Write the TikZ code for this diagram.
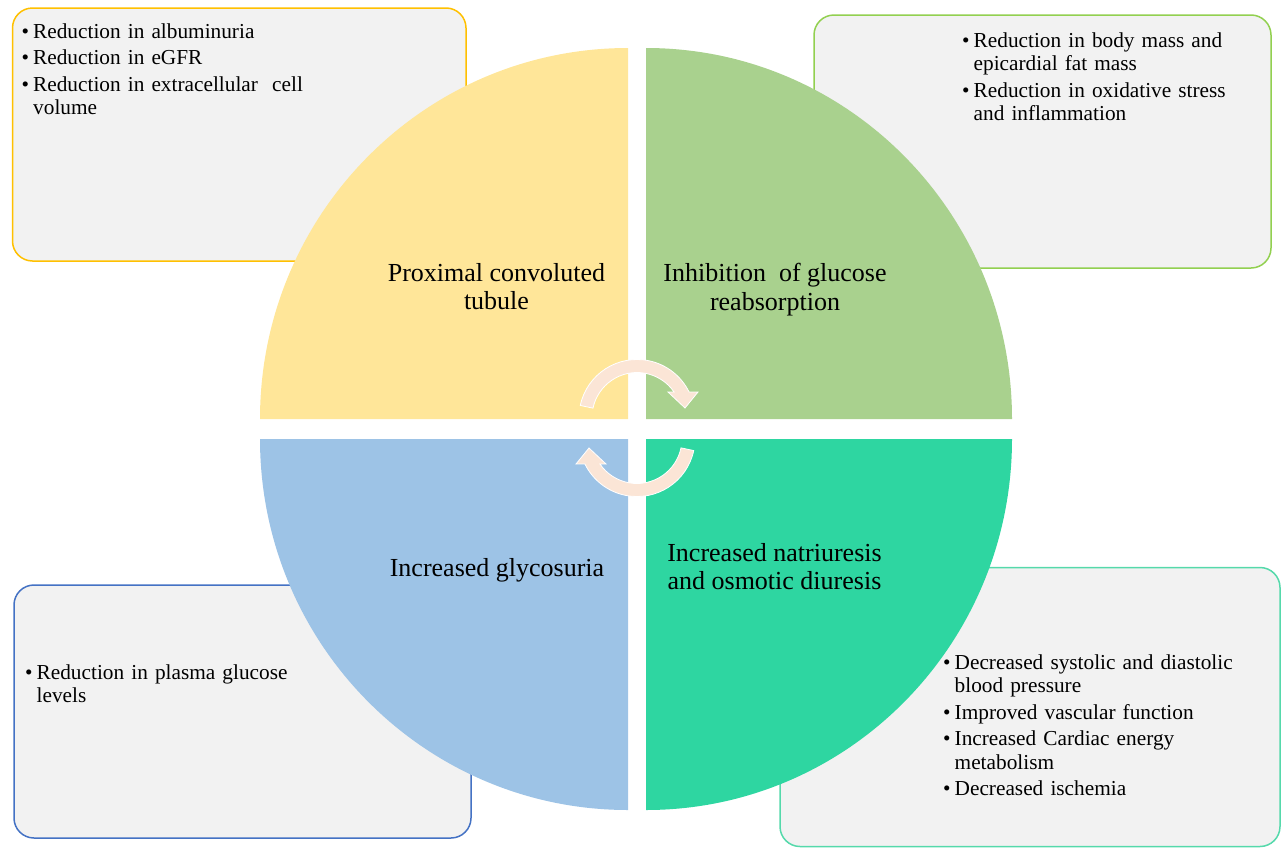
\documentclass[tikz,border=0pt]{standalone}
\usepackage{fontspec}
\setmainfont{Liberation Serif}
\definecolor{qyellow}{HTML}{FFE699}
\definecolor{qgreen}{HTML}{A9D18E}
\definecolor{qblue}{HTML}{9DC3E6}
\definecolor{qteal}{HTML}{2ED6A1}
\definecolor{byellow}{HTML}{FFC000}
\definecolor{bgreen}{HTML}{92D050}
\definecolor{bblue}{HTML}{4472C4}
\definecolor{bteal}{HTML}{55D9AB}
\definecolor{boxfill}{HTML}{F2F2F2}
\definecolor{arrowc}{HTML}{FBE5D6}
\newcommand{\bitem}[1]{\noindent\makebox[11.5pt][l]{\textbullet}#1\par}
\newcommand{\bcont}[1]{\vspace{-3pt}\noindent\hspace*{11.5pt}#1\par}
\tikzset{
  infobox/.style={draw, fill=boxfill, line width=1.5pt, rounded corners=20pt, inner sep=0pt},
  boxtext/.style={anchor=north west, inner sep=0pt, text width=440pt, align=left,
    font=\fontsize{21.3}{23.5}\selectfont, execute at begin node={\setlength{\parskip}{3pt}}},
  qlabel/.style={anchor=north, inner sep=0pt, align=center, font=\fontsize{26}{28.5}\selectfont},
  cyclearrow/.style={fill=arrowc, draw=white, line width=0.8pt}
}
\begin{document}
\begin{tikzpicture}[x=1pt,y=1pt]
\useasboundingbox (0,0) rectangle (1282,-849);
% boxes
\node[infobox, draw=byellow, minimum width=453.5pt, minimum height=253pt] (boxTL) at (239.25,-134.5) {};
\node[infobox, draw=bgreen, minimum width=457pt, minimum height=253pt] (boxTR) at (1042.5,-141.5) {};
\node[infobox, draw=bblue, minimum width=457pt, minimum height=253pt] (boxBL) at (242.5,-711.5) {};
\node[infobox, draw=bteal, minimum width=500pt, minimum height=279pt] (boxBR) at (1030,-707) {};
% box texts
\node[boxtext] (txtTL) at (21.5,-23.5) {\bitem{Reduction in albuminuria}\bitem{Reduction in eGFR}\bitem{Reduction in extracellular\ \ cell}\bcont{volume}};
\node[boxtext] (txtTR) at (962,-32.5) {\bitem{Reduction in body mass and}\bcont{epicardial fat mass}\bitem{Reduction in oxidative stress}\bcont{and inflammation}};
\node[boxtext] (txtBL) at (25,-664.5) {\bitem{Reduction in plasma glucose}\bcont{levels}};
\node[boxtext] (txtBR) at (943,-654.5) {\bitem{Decreased systolic and diastolic}\bcont{blood pressure}\bitem{Improved vascular function}\bitem{Increased Cardiac energy}\bcont{metabolism}\bitem{Decreased ischemia}};
% quadrants
\fill[qyellow] (628,-419) -- (260,-419) arc[start angle=180,end angle=90,x radius=368pt,y radius=371pt] -- cycle;
\fill[qgreen] (646,-419) -- (646,-48) arc[start angle=90,end angle=0,x radius=366pt,y radius=371pt] -- cycle;
\fill[qblue] (628,-439) -- (260,-439) arc[start angle=180,end angle=270,x radius=368pt,y radius=371pt] -- cycle;
\fill[qteal] (646,-439) -- (1012,-439) arc[start angle=0,end angle=-90,x radius=366pt,y radius=371pt] -- cycle;
% cycle arrows
\filldraw[cyclearrow] ([shift={(637,-417.5)}]168:58pt) arc[start angle=168,end angle=26,radius=58pt] -- (698,-392) -- (685,-408) -- (668,-392) -- ([shift={(637,-417.5)}]34.5:45pt) arc[start angle=34.5,end angle=168,radius=45pt] -- cycle;
\begin{scope}[rotate around={180:(637,-428)}]
\filldraw[cyclearrow] ([shift={(637,-417.5)}]168:58pt) arc[start angle=168,end angle=26,radius=58pt] -- (698,-392) -- (685,-408) -- (668,-392) -- ([shift={(637,-417.5)}]34.5:45pt) arc[start angle=34.5,end angle=168,radius=45pt] -- cycle;
\end{scope}
% quadrant labels
\node[qlabel] (lblTL) at (496.5,-263) {Proximal convoluted\\tubule};
\node[qlabel] (lblTR) at (775,-263) {Inhibition\ \ of glucose\\reabsorption};
\node[qlabel] (lblBL) at (497,-558) {Increased glycosuria};
\node[qlabel] (lblBR) at (774.5,-543) {Increased natriuresis\\and osmotic diuresis};
\end{tikzpicture}
\end{document}
